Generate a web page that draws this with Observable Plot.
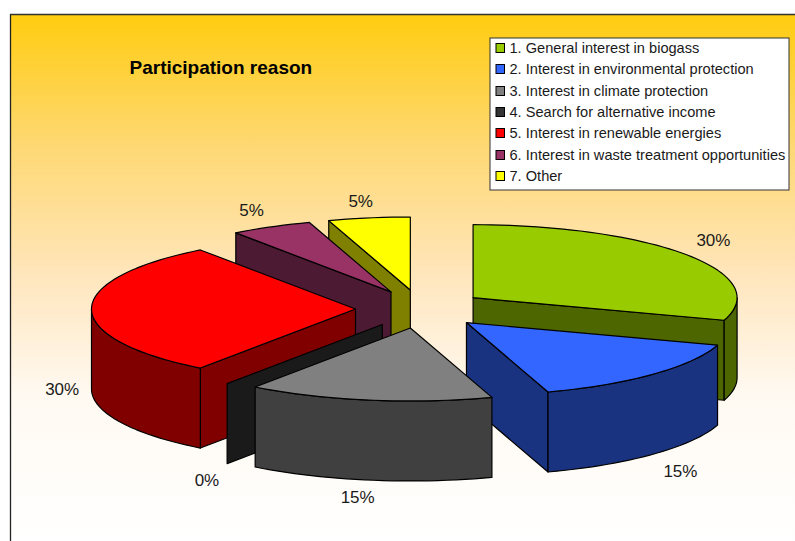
<!DOCTYPE html>
<html>
<head>
<meta charset="utf-8">
<style>html,body{margin:0;padding:0;background:#fff}svg{display:block}</style>
<script src="https://cdn.jsdelivr.net/npm/d3@7"></script>
<script src="https://cdn.jsdelivr.net/npm/@observablehq/plot@0.6"></script>
</head>
<body>
<script>
// ---- data ----
const title = "Participation reason";
const categories = [
  "1. General interest in biogass",
  "2. Interest in environmental protection",
  "3. Interest in climate protection",
  "4. Search for alternative income",
  "5. Interest in renewable energies",
  "6. Interest in waste treatment opportunities",
  "7. Other"
];
const shares = [30, 15, 15, 0, 30, 5, 5];
const colors = ["#99cc00", "#3366ff", "#808080", "#333333", "#ff0000", "#993366", "#ffff00"];

// ---- layout of the 3D exploded pie ----
const W = 795, H = 541;
const cx = 420, cy = 308.5, rx = 264, ry = 73, ex = 65, ey = 19.2, depth = 80;
const paintOrder = [6, 5, 0, 4, 3, 1, 2];
const labelNudge = [[-1, -20], [3, 16], [-6, 0], [0, 10], [5, 41], [-4, -4], [-3, 1]];
const legendRowY = [48, 69, 91, 112, 133, 155, 176];

const rad = d => d * Math.PI / 180;
let acc = 0;
const wedges = shares.map((v, i) => {
  const a0 = acc * 3.6; acc += v; const a1 = acc * 3.6; const mid = (a0 + a1) / 2;
  return {i, v, a0, a1, mid,
    ax: cx + ex * Math.sin(rad(mid)), ay: cy - ey * Math.cos(rad(mid))};
});
const rim = (w, a) => [w.ax + rx * Math.sin(rad(a)), w.ay - ry * Math.cos(rad(a))];
const dark = c => { const r = d3.rgb(c); return d3.rgb(r.r / 2, r.g / 2, r.b / 2).formatHex(); };
const arcAngles = (a, b) => { const o = []; for (let t = a; t < b; t += 2) o.push(t); o.push(b); return o; };

const pts = [];
let faceId = 0;
function face(list, fill) { const id = faceId++; for (const [x, y] of list) pts.push({x, y, id, fill}); }
for (const k of paintOrder) {
  const w = wedges[k], c = colors[k], d = dark(c);
  const wall = a => { const [x, y] = rim(w, a);
    face([[w.ax, w.ay], [x, y], [x, y + depth], [w.ax, w.ay + depth]], d); };
  if (Math.sin(rad(w.a0)) < -1e-6) wall(w.a0);
  if (Math.sin(rad(w.a1)) > 1e-6) wall(w.a1);
  const s = Math.max(w.a0, 90), e = Math.min(w.a1, 270);
  if (e > s) {
    const top = arcAngles(s, e).map(a => rim(w, a));
    face([...top, ...top.slice().reverse().map(([x, y]) => [x, y + depth])], d);
  }
  if (w.a1 > w.a0) face([[w.ax, w.ay], ...arcAngles(w.a0, w.a1).map(a => rim(w, a))], c);
}

const labels = wedges.map((w, i) => ({
  text: w.v + "%",
  x: w.ax + 1.13 * rx * Math.sin(rad(w.mid)) + labelNudge[i][0],
  y: w.ay - 1.8 * ry * Math.cos(rad(w.mid)) + 40 + labelNudge[i][1]
}));
const legendRows = categories.map((name, i) => ({name, color: colors[i], y: legendRowY[i]}));

const font = "'Liberation Sans', Arial, sans-serif";
function gradient() {
  const defs = d3.create("svg:defs");
  const g = defs.append("linearGradient").attr("id", "bg").attr("x1", 0).attr("x2", 0).attr("y1", 0).attr("y2", 1);
  [[0, "#ffcc0f"], [0.25, "#fed873"], [0.5, "#ffe6bd"], [0.72, "#fff9f1"], [1, "#ffffff"]]
    .forEach(([o, c]) => g.append("stop").attr("offset", o).attr("stop-color", c));
  return defs.node();
}

const chart = Plot.plot({
  width: W, height: H,
  marginTop: 0, marginRight: 0, marginBottom: 0, marginLeft: 0,
  x: {domain: [0, W], range: [0, W], axis: null},
  y: {domain: [0, H], range: [0, H], axis: null},
  color: {type: "identity"},
  style: {background: "#fff", fontFamily: font},
  marks: [
    gradient,
    Plot.rect([0], {x1: () => 10, x2: () => W, y1: () => 14, y2: () => H, fill: "url(#bg)"}),
    Plot.ruleX([10], {y1: 14, y2: H, stroke: "#222", strokeWidth: 1.3}),
    Plot.ruleY([14], {x1: 10, x2: W, stroke: "#333", strokeWidth: 1.3}),
    Plot.line(pts, {x: "x", y: "y", z: "id", fill: "fill", stroke: "#000", strokeWidth: 1.2, curve: "linear-closed"}),
    Plot.text(labels, {x: "x", y: "y", text: "text", fontSize: 17, fill: "#1a1a1a", fontFamily: font}),
    Plot.text([title], {x: () => 129, y: () => 67, text: d => d, textAnchor: "start", fontSize: 19, fontWeight: "bold", fill: "#000", fontFamily: font}),
    Plot.rect([0], {x1: () => 490, x2: () => 789, y1: () => 38, y2: () => 190, fill: "#fff", stroke: "#333", strokeWidth: 1}),
    Plot.rect(legendRows, {x1: () => 496, x2: () => 504.5, y1: d => d.y - 4.5, y2: d => d.y + 4.5, fill: "color", stroke: "#000", strokeWidth: 1}),
    Plot.text(legendRows, {x: () => 509, y: "y", text: "name", textAnchor: "start", fontSize: 14.6, fill: "#1a1a1a", fontFamily: font})
  ]
});
document.body.appendChild(chart);
</script>
</body>
</html>
